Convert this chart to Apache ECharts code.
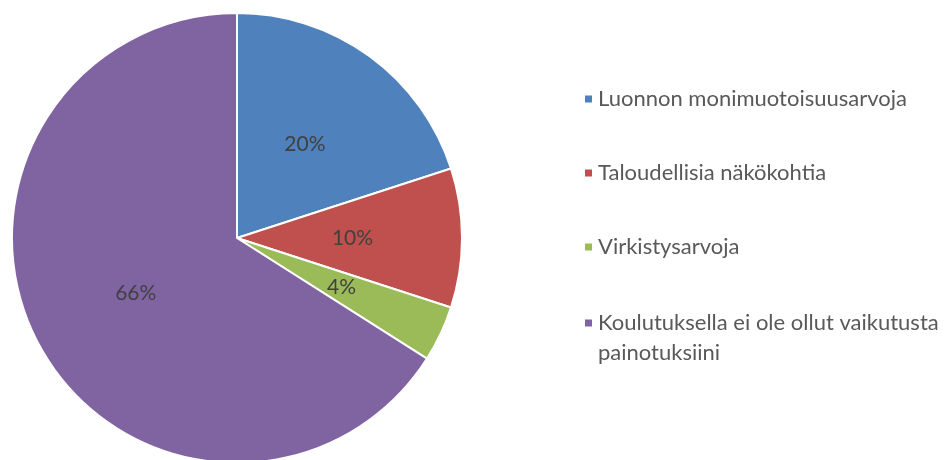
<!DOCTYPE html>
<html lang="fi">
  <head>
    <meta charset="UTF-8" />
    <title>Painotukset</title>
    <style>
      html, body { margin: 0; padding: 0; background: #fff; }
      #main { width: 946px; height: 460px; }
    </style>
  </head>
  <body>
    <script src="https://cdn.jsdelivr.net/npm/echarts@6/dist/echarts.min.js"></script>
    <div id="main"></div>
    <script>
      const categories = [
        'Luonnon monimuotoisuusarvoja',
        'Taloudellisia näkökohtia',
        'Virkistysarvoja',
        'Koulutuksella ei ole ollut vaikutusta painotuksiini'
      ]
      const values = [20, 10, 4, 66]
      const colors = ['#4F81BD', '#C0504D', '#9BBB59', '#8064A2']
      // how the long legend entry wraps in the original
      const wrapped = 'Koulutuksella ei ole ollut vaikutusta\npainotuksiini'

      const font = 'Lato, "Open Sans", sans-serif'
      const chart = echarts.init(document.getElementById('main'))

      const legendBase = {
        orient: 'vertical',
        left: 578,
        icon: 'rect',
        itemWidth: 9,
        itemHeight: 9,
        itemGap: 44,
        selectedMode: false,
        textStyle: {
          fontFamily: font,
          fontSize: 22,
          color: '#595959',
          lineHeight: 30
        }
      }

      chart.setOption({
        animation: false,
        color: colors,
        legend: [
          {
            ...legendBase,
            top: 79,
            data: categories.slice(0, 3)
          },
          {
            // blank first line keeps the marker level with the first text line
            ...legendBase,
            top: 273,
            formatter: () => '\n' + wrapped,
            data: categories.slice(3)
          }
        ],
        series: [
          {
            type: 'pie',
            center: [237, 238],
            radius: 225,
            startAngle: 90,
            clockwise: true,
            itemStyle: { borderColor: '#fff', borderWidth: 2 },
            label: {
              position: 'inside',
              formatter: '{c}%',
              fontFamily: font,
              fontSize: 21,
              color: '#404040'
            },
            labelLine: { show: false },
            emphasis: { disabled: true },
            data: categories.map((name, i) => ({ name, value: values[i] }))
          }
        ]
      })
    </script>
  </body>
</html>
